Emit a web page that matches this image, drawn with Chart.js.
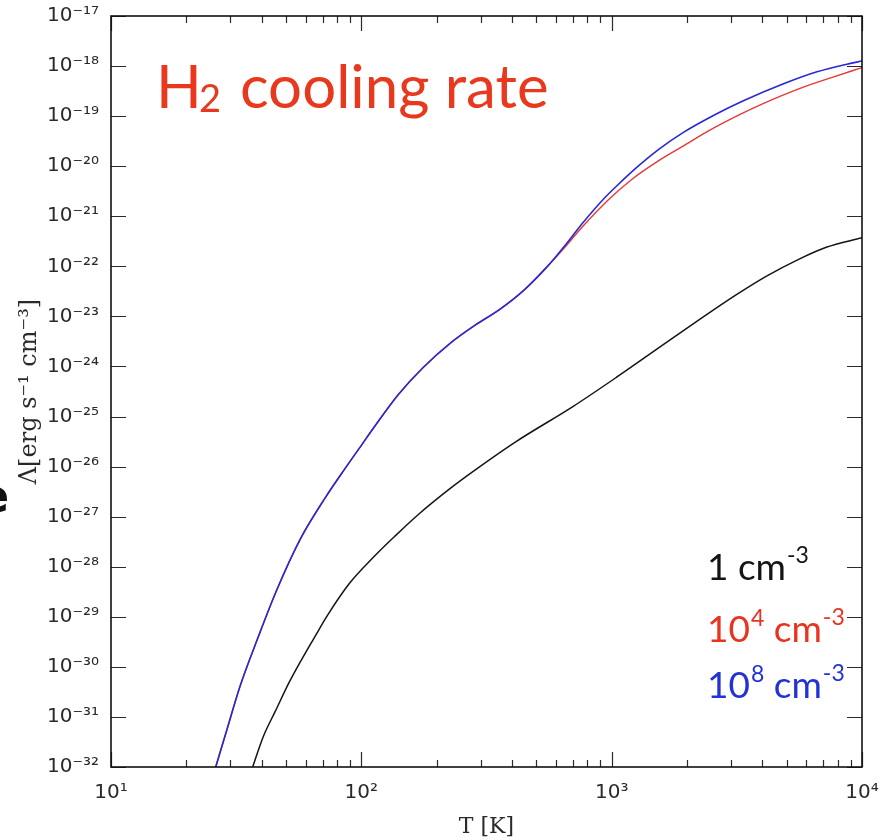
<!DOCTYPE html>
<html><head><meta charset="utf-8">
<script src="https://cdn.jsdelivr.net/npm/chart.js@4/dist/chart.umd.min.js"></script>
<style>html,body{margin:0;padding:0;background:#fff}#wrap{width:894px;height:840px;position:relative}</style>
</head><body><div id="wrap"><canvas id="c" width="894" height="840"></canvas></div>
<script>
// ---- data (T in K, Lambda in erg s^-1 cm^-3) ----
const temperatureHigh = [26.2, 29.1, 32.7, 38.9, 45.8, 57.3, 71.8, 85.5, 100.5, 112.2, 140.6, 175.8, 228.6, 285.8, 357.3, 447.7, 561.0, 639.7, 767.4, 922.6, 1045, 1256, 1556, 1928, 2618, 3342, 4831, 6561, 8913, 10000];
const coolingDens8 = [1e-32, 5.75e-32, 3.98e-31, 4.17e-30, 3.31e-29, 3.72e-28, 2.40e-27, 8.71e-27, 2.75e-26, 6.03e-26, 2.75e-25, 9.33e-25, 3.02e-24, 6.76e-24, 1.38e-23, 3.39e-23, 1.07e-22, 2.34e-22, 7.41e-22, 2.14e-21, 3.98e-21, 9.33e-21, 2.24e-20, 4.68e-20, 1.10e-19, 2.00e-19, 4.37e-19, 7.59e-19, 1.12e-18, 1.26e-18];

const temperatureMid = [26.2, 29.1, 32.7, 38.9, 45.8, 57.3, 71.8, 85.5, 100.5, 112.2, 140.6, 175.8, 228.6, 285.8, 357.3, 447.7, 561.0, 639.7, 767.4, 966.1, 1199, 1531, 1928, 2427, 3243, 4027, 5623, 7656, 10000];
const coolingDens4 = [1e-32, 5.75e-32, 3.98e-31, 4.17e-30, 3.31e-29, 3.72e-28, 2.40e-27, 8.71e-27, 2.75e-26, 6.03e-26, 2.75e-25, 9.33e-25, 3.02e-24, 6.76e-24, 1.38e-23, 3.39e-23, 1.07e-22, 2.19e-22, 6.31e-22, 2.09e-21, 5.37e-21, 1.26e-20, 2.51e-20, 5.01e-20, 1.07e-19, 1.78e-19, 3.55e-19, 6.03e-19, 9.33e-19];

const temperatureLow = [36.8, 40.6, 45.2, 51.6, 66.4, 72.6, 89.7, 112.2, 135.5, 169.4, 228.6, 275.4, 415.0, 699.8, 1057, 1656, 2570, 3162, 4140, 5636, 7194, 10000];
const coolingDens1 = [1e-32, 4.07e-32, 1.26e-31, 5.01e-31, 4.68e-30, 1.0e-29, 4.68e-29, 1.58e-28, 3.98e-28, 1.12e-27, 3.80e-27, 7.59e-27, 3.16e-26, 1.58e-25, 6.31e-25, 3.02e-24, 1.38e-23, 2.75e-23, 6.31e-23, 1.41e-22, 2.40e-22, 3.72e-22];

const xMajorTicks = [10, 100, 1000, 10000];
const xMinorTicks = [20, 30, 40, 50, 60, 70, 80, 90, 200, 300, 400, 500, 600, 700, 800, 900, 2000, 3000, 4000, 5000, 6000, 7000, 8000, 9000];
const yTicks = [1e-32, 1e-31, 1e-30, 1e-29, 1e-28, 1e-27, 1e-26, 1e-25, 1e-24, 1e-23, 1e-22, 1e-21, 1e-20, 1e-19, 1e-18, 1e-17];

const chartTitle = ['H', '2', 'cooling rate'];
const legendRows = [
  {base: '1', sup: '', unit: ' cm', exp: '-3', color: '#141414'},
  {base: '10', sup: '4', unit: ' cm', exp: '-3', color: '#e8341f'},
  {base: '10', sup: '8', unit: ' cm', exp: '-3', color: '#2233d6'}
];
const xTitle = 'T [K]';
const yTitle = 'Λ[erg s⁻¹ cm⁻³]';

// ---- helpers ----
const SUP = {'0':'⁰','1':'¹','2':'²','3':'³','4':'⁴','5':'⁵','6':'⁶','7':'⁷','8':'⁸','9':'⁹','-':'⁻'};
const supStr = s => String(s).split('').map(c => SUP[c] || c).join('');
const pairs = (xs, ys) => xs.map((x, i) => ({x, y: ys[i]}));

const decorations = {
  id: 'decorations',
  afterDatasetsDraw(chart) {
    const {ctx, chartArea: a, scales: {x, y}} = chart;
    ctx.save();
    ctx.strokeStyle = '#2a2a2a';
    ctx.lineWidth = 1.2;
    ctx.beginPath();
    const xt = (v, len) => {
      const px = Math.round(x.getPixelForValue(v)) + 0.5;
      ctx.moveTo(px, a.bottom); ctx.lineTo(px, a.bottom - len);
      ctx.moveTo(px, a.top); ctx.lineTo(px, a.top + len);
    };
    xMajorTicks.forEach(v => xt(v, 15));
    xMinorTicks.forEach(v => xt(v, 7));
    yTicks.forEach(v => {
      const py = Math.round(y.getPixelForValue(v)) + 0.5;
      ctx.moveTo(a.left, py); ctx.lineTo(a.left + 15, py);
      ctx.moveTo(a.right, py); ctx.lineTo(a.right - 15, py);
    });
    ctx.stroke();
    ctx.strokeStyle = '#111';
    ctx.lineWidth = 1.6;
    ctx.strokeRect(a.left, a.top, a.right - a.left, a.bottom - a.top);

    // title annotation
    ctx.textBaseline = 'alphabetic';
    ctx.textAlign = 'left';
    ctx.fillStyle = '#e8391e';
    ctx.font = '60px Lato';
    ctx.fillText(chartTitle[0], 156, 108);
    ctx.font = '38px Lato';
    ctx.fillText(chartTitle[1], 199, 112);
    ctx.font = '60px Lato';
    ctx.fillText(chartTitle[2], 240, 108);

    // legend texts
    const rowY = [580, 642, 698];
    legendRows.forEach((r, i) => {
      let px = 707;
      const by = rowY[i];
      ctx.fillStyle = r.color;
      ctx.font = '37px Lato';
      ctx.fillText(r.base, px, by); px += ctx.measureText(r.base).width;
      if (r.sup) {
        ctx.font = '23px Lato';
        ctx.fillText(r.sup, px + 1, by - 16); px += ctx.measureText(r.sup).width + 1;
      }
      ctx.font = '37px Lato';
      ctx.fillText(r.unit, px, by); px += ctx.measureText(r.unit).width;
      ctx.font = '23px Lato';
      ctx.fillText(r.exp, px + 1, by - 17);
    });

    // cropped glyph at left edge of the slide
    ctx.fillStyle = '#111';
    ctx.font = 'bold 46px "DejaVu Sans"';
    ctx.fillText('e', -22, 512);
    ctx.restore();
  }
};

new Chart(document.getElementById('c'), {
  type: 'line',
  data: {
    datasets: [
      {label: '10⁸ cm⁻³', data: pairs(temperatureHigh, coolingDens8), borderColor: 'rgb(40,40,215)', borderWidth: 1.6, order: 0},
      {label: '10⁴ cm⁻³', data: pairs(temperatureMid, coolingDens4), borderColor: 'rgb(232,55,55)', borderWidth: 1.4, order: 1},
      {label: '1 cm⁻³', data: pairs(temperatureLow, coolingDens1), borderColor: 'rgb(20,20,20)', borderWidth: 1.5, order: 2}
    ]
  },
  options: {
    responsive: false,
    animation: false,
    devicePixelRatio: 1,
    elements: {point: {radius: 0}, line: {cubicInterpolationMode: 'monotone', fill: false}},
    layout: {padding: {top: 16, right: 32, left: 0, bottom: 0}},
    plugins: {legend: {display: false}, tooltip: {enabled: false}},
    scales: {
      x: {
        type: 'logarithmic', min: 10, max: 10000,
        grid: {display: false, drawTicks: false}, border: {display: false},
        afterBuildTicks: s => { s.ticks = xMajorTicks.map(v => ({value: v, major: true})); },
        afterFit: s => { s.height = 73; s.paddingLeft = 0; s.paddingRight = 0; },
        ticks: {
          autoSkip: false, maxRotation: 0, padding: 14, color: '#2a2a2a',
          font: {family: '"DejaVu Sans"', size: 20},
          callback: v => '10' + supStr(Math.round(Math.log10(v)))
        },
        title: {display: true, text: xTitle, color: '#2a2a2a', font: {family: '"DejaVu Serif"', size: 22}, padding: {top: 0, bottom: 0}}
      },
      y: {
        type: 'logarithmic', min: 1e-32, max: 1e-17,
        grid: {display: false, drawTicks: false}, border: {display: false},
        afterBuildTicks: s => { s.ticks = yTicks.map(v => ({value: v, major: true})); },
        afterFit: s => { s.width = 111; s.paddingTop = 0; s.paddingBottom = 0; },
        ticks: {
          autoSkip: false, padding: 12, color: '#2a2a2a',
          font: {family: '"DejaVu Sans"', size: 20},
          callback: v => '10' + supStr(Math.round(Math.log10(v)))
        },
        title: {display: true, text: yTitle, color: '#2a2a2a', font: {family: '"DejaVu Serif"', size: 24}, padding: {top: 15, bottom: 0}}
      }
    }
  },
  plugins: [decorations]
});
</script></body></html>
